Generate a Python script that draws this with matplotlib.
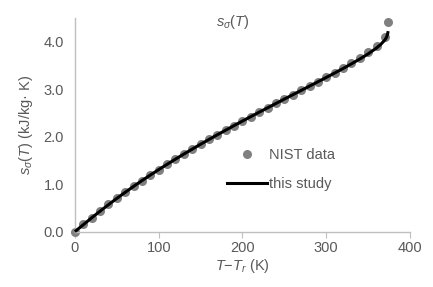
import matplotlib
matplotlib.use("Agg")
import matplotlib.pyplot as plt
from matplotlib.lines import Line2D

plt.rcParams['font.family'] = ['Liberation Sans', 'DejaVu Sans']
plt.rcParams['mathtext.fontset'] = 'custom'
plt.rcParams['mathtext.rm'] = 'Liberation Sans'
plt.rcParams['mathtext.it'] = 'Liberation Sans:italic'

# NIST saturated-liquid entropy, T - Tr in K, s in kJ/kg K
nist_dT = [0, 10, 20, 30, 40, 50, 60, 70, 80, 90, 100, 110, 120, 130, 140, 150,
           160, 170, 180, 190, 200, 210, 220, 230, 240, 250, 260, 270, 280, 290,
           300, 310, 320, 330, 340, 350, 360, 370, 373.9]
nist_s = [0.0, 0.151, 0.297, 0.437, 0.572, 0.704, 0.831, 0.955, 1.076, 1.193,
          1.307, 1.419, 1.528, 1.635, 1.739, 1.842, 1.943, 2.042, 2.139, 2.236,
          2.331, 2.425, 2.518, 2.610, 2.702, 2.794, 2.885, 2.977, 3.069, 3.161,
          3.255, 3.351, 3.449, 3.552, 3.660, 3.778, 3.917, 4.111, 4.407]

# model curve ("this study")
fit_dT = [0, 10, 20, 30, 40, 50, 60, 70, 80, 90, 100, 110, 120, 130, 140, 150,
          160, 170, 180, 190, 200, 210, 220, 230, 240, 250, 260, 270, 280, 290,
          300, 310, 320, 330, 340, 350, 360, 365, 370, 372, 373, 373.9]
fit_s = [0.0, 0.145, 0.290, 0.430, 0.567, 0.700, 0.828, 0.953, 1.074, 1.192,
         1.306, 1.418, 1.527, 1.634, 1.738, 1.841, 1.942, 2.041, 2.138, 2.235,
         2.330, 2.424, 2.517, 2.609, 2.701, 2.793, 2.884, 2.975, 3.066, 3.157,
         3.249, 3.342, 3.437, 3.535, 3.637, 3.746, 3.870, 3.945, 4.040, 4.100,
         4.150, 4.225]

grey = '#595959'
axis_col = '#bfbfbf'

fig = plt.figure(figsize=(4.33, 2.87), dpi=100)
ax = fig.add_axes([0.173, 0.193, 0.774, 0.744])

ax.plot(nist_dT, nist_s, 'o', color='#808080', markersize=6.5, markeredgewidth=0,
        zorder=2, clip_on=False)
ax.plot(fit_dT, fit_s, '-', color='black', linewidth=2.2, zorder=3,
        solid_capstyle='butt', clip_on=False)

ax.set_xlim(0, 400)
ax.set_ylim(0, 4.5)
ax.set_xticks([0, 100, 200, 300, 400])
ax.set_yticks([0, 1, 2, 3, 4])
ax.set_yticklabels(['0.0', '1.0', '2.0', '3.0', '4.0'])

for s in ['top', 'right']:
    ax.spines[s].set_visible(False)
for s in ['left', 'bottom']:
    ax.spines[s].set_color(axis_col)
    ax.spines[s].set_linewidth(1.0)

ax.tick_params(axis='x', direction='out', length=4, color=axis_col,
               labelcolor=grey, labelsize=10.5, pad=3)
ax.tick_params(axis='y', length=0, labelcolor=grey, labelsize=10.5, pad=8)

ax.set_xlabel(r'$T$−$T_r$ (K)', color=grey, fontsize=10.5, labelpad=1)
ax.set_ylabel(r'$s_\sigma(T)$ (kJ/kg· K)', color=grey, fontsize=10.5, labelpad=6)

fig.text(233 / 433, 1 - 22 / 287, r'$s_\sigma(T)$', color=grey, fontsize=10.5,
         ha='center', va='center')

handles = [Line2D([], [], marker='o', linestyle='none', color='#808080',
                  markersize=6.5, markeredgewidth=0),
           Line2D([], [], color='black', linewidth=2.2)]
leg = ax.legend(handles, ['NIST data', 'this study'], loc='center left',
                bbox_to_anchor=(0.455, 0.29), frameon=False, fontsize=10.5,
                handlelength=2.7, handletextpad=0.15, labelspacing=1.0,
                borderpad=0, borderaxespad=0)
for t in leg.get_texts():
    t.set_color(grey)

fig.savefig('out.png', dpi=100)
